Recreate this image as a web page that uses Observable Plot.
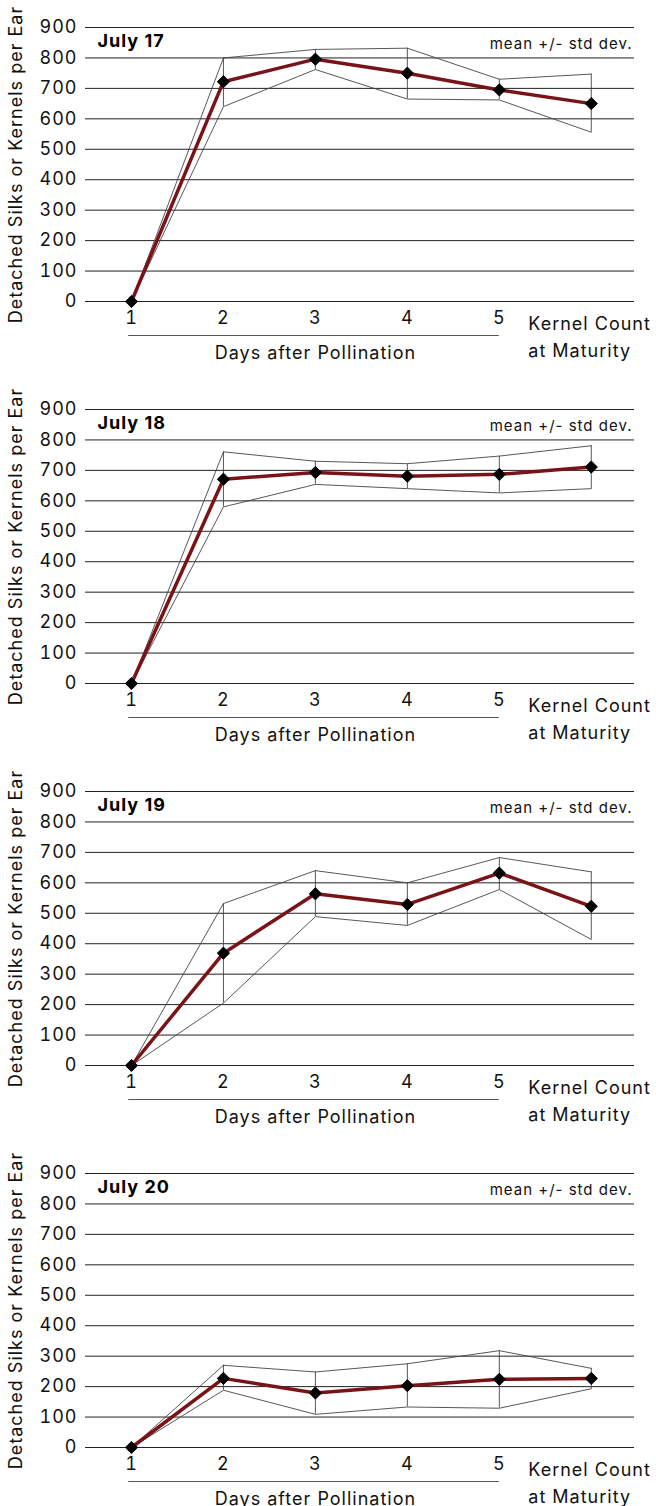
<!DOCTYPE html>
<html><head><meta charset="utf-8">
<script src="https://cdn.jsdelivr.net/npm/d3@7"></script>
<script src="https://cdn.jsdelivr.net/npm/@observablehq/plot@0.6"></script>
<style>
body{margin:0;background:#fff;}
#charts svg{display:block;}
#charts svg text{letter-spacing:1px;}
</style></head><body><div id="charts"></div>
<script>
const days = [1, 2, 3, 4, 5, 6];
const xTicks = [1, 2, 3, 4, 5];
const yTicks = [0, 100, 200, 300, 400, 500, 600, 700, 800, 900];
const dateLabels = ["July 17", "July 18", "July 19", "July 20"];
const yLabel = "Detached Silks or Kernels per Ear";
const xLabel = "Days after Pollination";
const kernelLabel = "Kernel Count\nat Maturity";
const legendLabel = "mean +/- std dev.";

const mean17 = [0, 722, 796, 750, 695, 650];
const upper17 = [0, 800, 828, 832, 730, 747];
const lower17 = [0, 640, 762, 665, 662, 556];

const mean18 = [0, 671, 693, 681, 687, 711];
const upper18 = [0, 761, 730, 722, 747, 781];
const lower18 = [0, 580, 654, 640, 626, 640];

const mean19 = [0, 369, 564, 529, 632, 523];
const upper19 = [0, 532, 640, 600, 683, 636];
const lower19 = [0, 205, 489, 460, 578, 414];

const mean20 = [0, 227, 179, 203, 224, 227];
const upper20 = [0, 270, 248, 275, 318, 260];
const lower20 = [0, 188, 109, 133, 129, 193];

const panels = [
  [mean17, upper17, lower17],
  [mean18, upper18, lower18],
  [mean19, upper19, lower19],
  [mean20, upper20, lower20]
];

const font = "Inter, 'DejaVu Sans', sans-serif";
const container = document.getElementById("charts");

panels.forEach(([mean, upper, lower], i) => {
  const data = days.map((d, j) => ({day: d, mean: mean[j], hi: upper[j], lo: lower[j]}));
  const chart = Plot.plot({
    width: 656,
    height: 382,
    marginLeft: 85,
    marginRight: 22,
    marginTop: 27,
    marginBottom: 81,
    style: {fontFamily: font, fontSize: "18px", color: "#111", background: "#fff", overflow: "visible"},
    x: {domain: [0.5, 6.47], axis: null},
    y: {domain: [0, 900], axis: null},
    marks: [
      Plot.ruleY(yTicks, {stroke: "#222", strokeWidth: 1}),
      Plot.axisY({ticks: yTicks, tickSize: 0, tickPadding: 8, fontSize: 18, label: yLabel, labelAnchor: "center", labelArrow: "none", labelOffset: 76}),
      Plot.axisX({ticks: xTicks, tickSize: 0, tickPadding: 10, fontSize: 18, tickFormat: d => String(d), label: null}),
      Plot.line(data, {x: "day", y: "hi", stroke: "#444", strokeWidth: 0.9}),
      Plot.line(data, {x: "day", y: "lo", stroke: "#444", strokeWidth: 0.9}),
      Plot.ruleX(data.filter(d => d.day > 1), {x: "day", y1: "lo", y2: "hi", stroke: "#444", strokeWidth: 0.9}),
      Plot.line(data, {x: "day", y: "mean", stroke: "#7a1318", strokeWidth: 3.5}),
      Plot.dot(data, {x: "day", y: "mean", symbol: "diamond2", r: 5.5, fill: "#000", stroke: "#000", strokeWidth: 1}),
      Plot.ruleY([0], {x1: 0.97, x2: 5, dy: 34, stroke: "#555", strokeWidth: 1}),
      Plot.text([xLabel], {x: 3, y: 0, dy: 52, fontSize: 18, fill: "#111"}),
      Plot.text([kernelLabel], {x: 6, y: 0, dx: -63, dy: 9, textAnchor: "start", lineAnchor: "top", lineHeight: 1.5, fontSize: 18, fill: "#111"}),
      Plot.text([dateLabels[i]], {frameAnchor: "top-left", dx: 12, dy: 14, lineAnchor: "middle", textAnchor: "start", fontSize: 18, fontWeight: "bold", fill: "#000"}),
      Plot.text([legendLabel], {frameAnchor: "top-right", dx: -2, dy: 17, lineAnchor: "middle", textAnchor: "end", fontSize: 15, fill: "#111"})
    ]
  });
  container.appendChild(chart);
});
</script></body></html>
